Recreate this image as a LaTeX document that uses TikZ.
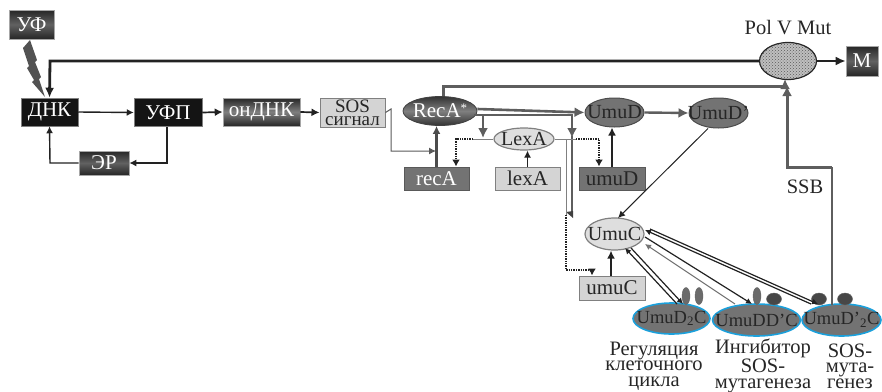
\documentclass[tikz,border=0pt]{standalone}
\usepackage{fontspec}
\setmainfont{Liberation Serif}
\usetikzlibrary{arrows.meta,shapes.geometric,patterns}
\definecolor{gline}{HTML}{5E5E5E}
\definecolor{dline}{HTML}{222222}
\definecolor{cyanrim}{HTML}{1BA0DB}
\newcommand{\zb}[1]{\makebox[0pt][c]{#1}}
\tikzset{
  x=1pt,y=-1pt,
  boxbase/.style={rectangle,inner sep=0pt,font=\fontsize{21}{21}\selectfont},
  darkbox/.style={boxbase,text=white,draw=gray!70,line width=.6pt,top color=black!85,bottom color=black!85,middle color=black!62},
  blackbox/.style={boxbase,text=white,fill=black!92,draw=gray,line width=.5pt},
  lightbox/.style={boxbase,text=black!85,fill=black!17,draw=gray,line width=1pt},
  midbox/.style={boxbase,text=white,fill=black!55,draw=black!65,line width=1pt},
  ovaltext/.style={ellipse,inner sep=0pt,font=\fontsize{20}{20}\selectfont},
  darkoval/.style={ovaltext,fill=black!55,draw=black!70,line width=1pt,text=black!85},
  lightoval/.style={ovaltext,fill=black!13,draw=gray,line width=1.2pt,text=black!85},
  complexoval/.style={ovaltext,fill=black!55,draw=cyanrim,line width=1.6pt,text=black!85,font=\fontsize{18.5}{18.5}\selectfont},
  smalloval/.style={ellipse,inner sep=0pt,fill=black!58,draw=black!60,line width=.4pt},
  capt/.style={inner sep=0pt,align=center,text=black!85,font=\fontsize{20.5}{15.5}\selectfont},
  thinarr/.style={-{Latex[length=7pt,width=7pt]},draw=dline,line width=1.2pt},
  midarr/.style={-{Latex[length=8pt,width=8pt]},draw=dline,line width=1.7pt},
  heavyarr/.style={-{Latex[length=10pt,width=9pt]},draw=dline,line width=2.8pt},
  grayarr/.style={-{Latex[length=10pt,width=10pt]},draw=gline,line width=3pt},
  grayline/.style={draw=gline,line width=3pt},
  hairline/.style={draw=gray,line width=1pt},
  dotarr/.style={-{Latex[length=7pt,width=8pt]},draw=dline,line width=2pt,dash pattern=on 1.4pt off 1pt},
  doubleA/.style={-{Latex[length=6pt,width=6pt]},draw=dline,line width=1.2pt},
  doubleB/.style={-{Latex[length=6pt,width=6pt]},draw=black!55,line width=1pt},
}
\begin{document}
\begin{tikzpicture}
\useasboundingbox (0,0) rectangle (882,391);
% nodes
\node[darkbox,minimum width=45pt,minimum height=29pt] (uf) at (31.5,24.5) {УФ};
\node[blackbox,minimum width=57pt,minimum height=28pt] (dnk) at (49.5,112) {ДНК};
\node[blackbox,minimum width=68pt,minimum height=28pt] (ufp) at (168,112.5) {УФП};
\node[darkbox,minimum width=77pt,minimum height=28pt,middle color=black!50] (ondnk) at (261.5,112) {онДНК};
\node[lightbox,minimum width=65pt,minimum height=29pt,align=center,font=\fontsize{19}{13}\selectfont] (sos) at (352.5,112.5) {SOS\\сигнал};
\node[darkbox,minimum width=50pt,minimum height=24pt] (er) at (104,163) {ЭР};
\node[ellipse,minimum width=57pt,minimum height=37pt,inner sep=0pt,draw=black!85,line width=1.2pt,fill=black!25] (pol) at (788,61) {};
\fill[pattern=crosshatch dots,pattern color=black!65] (788,61) ellipse [x radius=27.5,y radius=18];
\node[capt] (polt) at (788,28) {Pol V Mut};
\node[darkbox,minimum width=32pt,minimum height=30pt] (m) at (862,61) {M};
\node[ovaltext,minimum width=74pt,minimum height=29pt,top color=black!80,bottom color=black!80,middle color=black!50,draw=black!75,line width=.8pt,text=white,font=\fontsize{21}{21}\selectfont] (reca) at (440,111) {\zb{RecA\raisebox{5pt}{\fontsize{13}{13}\selectfont*}}};
\node[darkoval,minimum width=59pt,minimum height=29pt] (umud) at (614.5,112.5) {\zb{UmuD}};
\node[darkoval,minimum width=59pt,minimum height=30pt] (umudp) at (718.5,113) {\zb{UmuD'}};
\node[lightoval,minimum width=60pt,minimum height=22pt] (lexa) at (524,139) {\zb{LexA}};
\node[midbox,minimum width=65pt,minimum height=23pt] (recab) at (436.5,178.5) {recA};
\node[lightbox,minimum width=65pt,minimum height=23pt] (lexab) at (527.5,178.5) {lexA};
\node[midbox,text=black!85,minimum width=66pt,minimum height=23pt] (umudb) at (612,178.5) {umuD};
\node[lightoval,minimum width=59pt,minimum height=32pt] (umuc) at (614.5,234) {\zb{UmuC}};
\node[lightbox,minimum width=66pt,minimum height=24pt] (umucb) at (612,288) {umuC};
\node[complexoval,minimum width=77pt,minimum height=31pt] (c1) at (671.5,318.5) {\zb{UmuD\textsubscript{2}C}};
\node[complexoval,minimum width=88pt,minimum height=32pt] (c2) at (756.5,320) {\zb{UmuDD'C}};
\node[complexoval,minimum width=79pt,minimum height=32pt] (c3) at (841.5,320) {\zb{UmuD'\textsubscript{2}C}};
\node[smalloval,minimum width=8pt,minimum height=17pt] (s1) at (686,296) {};
\node[smalloval,minimum width=8pt,minimum height=17pt] (s2) at (699,296) {};
\node[smalloval,minimum width=8pt,minimum height=17pt] (s3) at (757,296) {};
\node[smalloval,fill=black!72,minimum width=15pt,minimum height=12pt] (s4) at (774,299) {};
\node[smalloval,fill=black!72,minimum width=15pt,minimum height=12pt] (s5) at (819,299) {};
\node[smalloval,fill=black!72,minimum width=15pt,minimum height=12pt] (s6) at (845,299) {};
\node[capt] (t1) at (654,366) {Регуляция\\клеточного\\цикла};
\node[capt] (t2) at (763,366) {Ингибитор\\SOS-\\мутагенеза};
\node[capt] (t3) at (850,366) {SOS-\\мута-\\генез};
\node[capt] (ssb) at (805,187) {SSB};
% lightning
\fill[black!68] (30,40)--(23,48)--(29,66)--(27,68)--(34,80)--(32,82)--(45,97)--(39,79)--(41,77)--(35,62)--(37,60)--cycle;
% left chain
\draw[heavyarr] (pol.west) -- (50,61) -- (dnk.north);
\draw[thinarr,line width=1.4pt] (dnk.east) -- (ufp.west);
\draw[midarr] (ufp.east) -- (ondnk.west);
\draw[midarr] (ondnk.east) -- (sos.west);
\coordinate (ufpdown) at (167,163);
\draw[thinarr,line width=1.4pt] (ufp.south -| ufpdown) -- (ufpdown) -- (er.east);
\draw[thinarr,line width=1.4pt] (er.west) -- (50,163) -- (dnk.south);
% SOS to RecA feed
\coordinate (feed) at (436,151);
\draw[thinarr,draw=black!65,line width=1pt] (sos.east) -- (391,109) -- (391,151) -- (feed);
\draw[midarr,draw=black!70,line width=2.2pt] (recab.north) -- (recab.north |- reca.south);
% Pol V
\draw[heavyarr] (pol.east) -- (m.west);
\coordinate (polbot) at (785,79);
\draw[grayarr] (443,96) -- (443,86) -- (785,86) -- (785,79);
\coordinate (ssbA) at (787,167);
\coordinate (ssbB) at (832,167);
\draw[grayarr] (ssbB) -- (ssbA) -- (787,86);
\draw[grayline,line width=2.6pt] (ssbB) -- (832,305);
% RecA to UmuD to UmuD'
\draw[grayarr,line width=2.6pt] (reca.east |- 0,109) -- (umud.west);
\draw[grayarr,line width=2.4pt] (umud.east) -- (umudp.west);
\draw[grayarr,line width=2.6pt] (474,115) -- (572,115) -- (572,138);
\draw[grayline,line width=2.6pt] (572,136) -- (572,213);
\draw[grayarr,line width=2.8pt] (483,116) -- (483,138);
\fill[black!75] (566,212)--(573,211)--(573,218)--cycle;
% LexA repression
\coordinate (lexL) at (456,139);
\coordinate (lexR) at (599,139);
\coordinate (thinS) at (566,215);
\draw[hairline] (lexa.west) -- (472,139);
\draw[dotarr] (473,139) -- (lexL) -- (recab.north -| lexL);
\draw[hairline] (lexa.east) -- (576,139);
\draw[dotarr] (576,139) -- (lexR) -- (umudb.north -| lexR);
\draw[hairline] (566,139) -- (thinS);
\draw[dotarr] (thinS) -- (566,270) -- (592,270) -- (umucb.north -| 592,0);
\draw[thinarr] (lexab.north) -- (lexa.south -| lexab.north);
\draw[midarr] (umudb.north -| 612,0) -- (umud.south -| 612,0);
\draw[thinarr,line width=1pt] (umudp.south -| 708,0) -- (618,218);
\draw[midarr] (umucb.north -| 611,0) -- (umuc.south -| 611,0);
% double arrows
\draw[doubleA] (677,304) -- (625,248);
\draw[doubleA] (631,248) -- (683,304);
\draw[doubleB] (735,304) -- (645,244);
\draw[doubleA] (645,237) -- (752,304);
\draw[doubleA] (811,304) -- (645,230);
\draw[doubleA] (650,229) -- (818,304);
\end{tikzpicture}
\end{document}
